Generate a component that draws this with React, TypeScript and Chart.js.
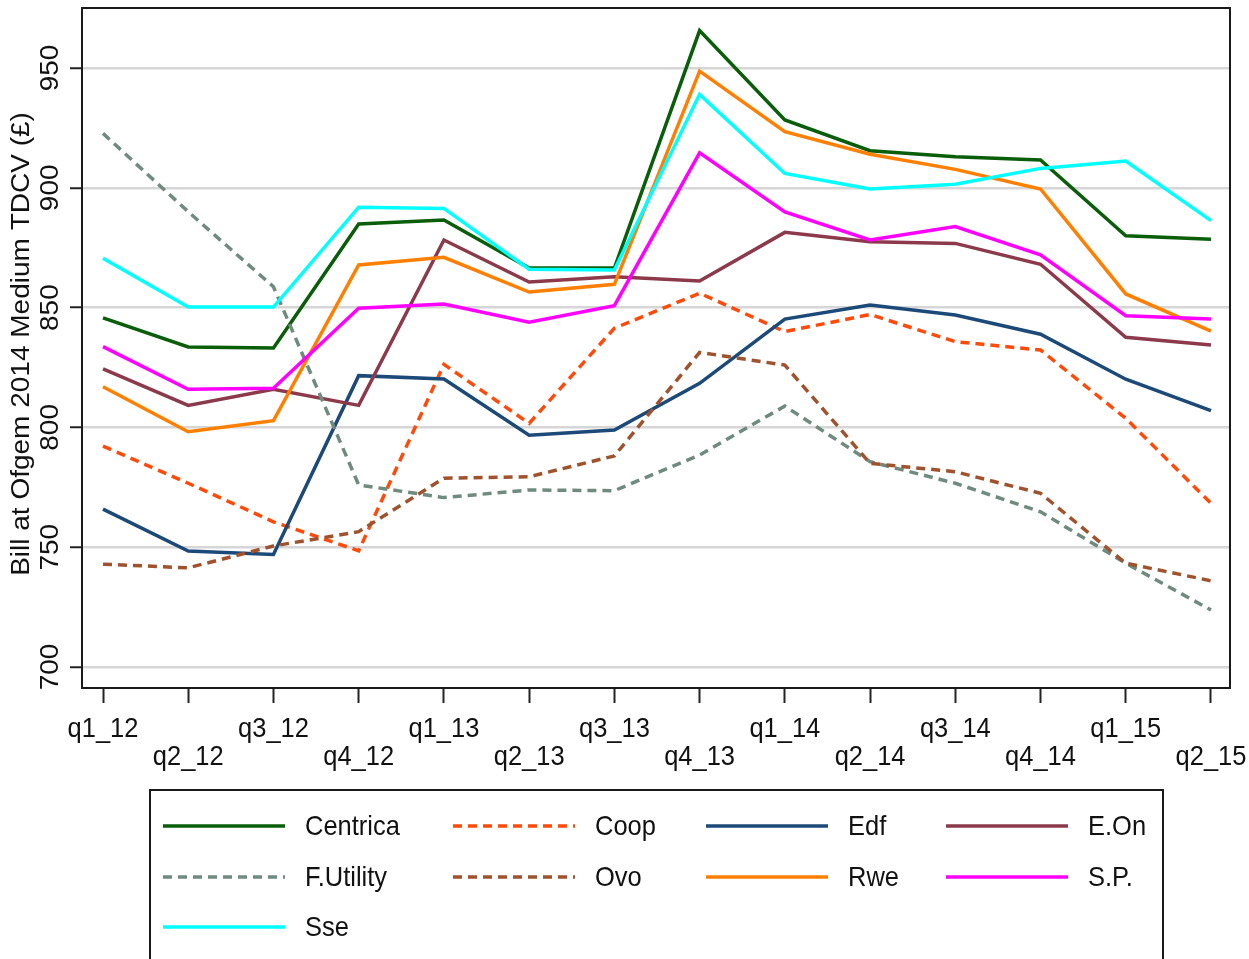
import React, { useEffect, useRef } from 'react';
import { Chart, registerables } from 'chart.js';

Chart.register(...registerables);

// ---------- data ----------
const quarters = ['q1_12', 'q2_12', 'q3_12', 'q4_12', 'q1_13', 'q2_13', 'q3_13', 'q4_13', 'q1_14', 'q2_14', 'q3_14', 'q4_14', 'q1_15', 'q2_15'];
const centrica = [845.7, 833.6, 833.1, 884.9, 886.6, 866.5, 866.5, 965.6, 928.3, 915.5, 913.0, 911.6, 880.0, 878.5];
const coop = [792.2, 776.7, 760.6, 748.5, 826.3, 801.7, 841.4, 856.0, 840.0, 847.1, 835.8, 832.3, 803.8, 768.3];
const edf = [765.9, 748.4, 747.0, 821.6, 820.2, 796.7, 798.9, 818.4, 845.2, 851.1, 846.9, 838.9, 820.1, 807.0];
const eon = [824.4, 809.2, 815.9, 809.2, 878.2, 860.7, 862.9, 861.1, 881.4, 877.5, 876.8, 868.1, 837.6, 834.4];
const fUtility = [922.7, 890.0, 858.7, 776.0, 770.7, 773.9, 773.6, 788.5, 808.9, 785.7, 776.7, 764.8, 743.3, 723.8];
const ovo = [742.9, 741.4, 750.5, 756.5, 778.8, 779.4, 788.1, 831.3, 826.0, 785.0, 781.5, 772.5, 743.3, 736.0];
const rwe = [817.0, 798.2, 802.8, 867.8, 871.0, 856.5, 859.7, 948.7, 923.4, 914.0, 907.7, 899.5, 855.7, 840.2];
const sp = [833.7, 815.9, 816.3, 849.7, 851.5, 843.9, 850.8, 914.6, 889.9, 878.2, 883.8, 872.0, 846.6, 845.2];
const sse = [870.6, 850.2, 850.2, 891.9, 891.4, 866.0, 865.7, 939.0, 906.0, 899.5, 901.5, 908.1, 911.2, 886.3];
const yTicks = [700, 750, 800, 850, 900, 950];
const yTitle = 'Bill at Ofgem 2014 Medium TDCV (£)';

const seriesNames = ['Centrica', 'Coop', 'Edf', 'E.On', 'F.Utility', 'Ovo', 'Rwe', 'S.P.', 'Sse'];
const seriesValues = [centrica, coop, edf, eon, fUtility, ovo, rwe, sp, sse];

// ---------- styles ----------
const seriesColors = ['#0a5e0a', '#ff4a0a', '#1c4a78', '#8c3a4b', '#6f8a7e', '#a0522d', '#ff7f00', '#ff00ff', '#00ffff'];
const seriesDashed = [false, true, false, false, true, true, false, false, false];
const FONT = '"Liberation Sans", Arial, Helvetica, sans-serif';
const SX = 0.91; // horizontal text condensing

const datasets = seriesNames.map((name, i) => ({
  label: name,
  data: seriesValues[i].map((v, k) => ({ x: k, y: v })),
  borderColor: seriesColors[i],
  backgroundColor: seriesColors[i],
  borderWidth: 3.5,
  borderDash: seriesDashed[i] ? [9, 6] : [],
  pointRadius: 0,
  tension: 0,
  fill: false,
  order: seriesNames.length - i,
}));

function drawText(ctx: CanvasRenderingContext2D, text: string, x: number, y: number, rotate = false) {
  ctx.save();
  ctx.translate(x, y);
  ctx.scale(SX, 1);
  if (rotate) ctx.rotate(-Math.PI / 2);
  ctx.fillText(text, 0, 0);
  ctx.restore();
}

const customDraw = {
  id: 'customDraw',
  afterDraw(chart: any) {
    const { ctx, chartArea, scales } = chart;
    const xs = scales.x;
    const ys = scales.y;
    ctx.save();

    // frame
    ctx.strokeStyle = '#1a1a1a';
    ctx.lineWidth = 2;
    ctx.setLineDash([]);
    ctx.strokeRect(chartArea.left, chartArea.top, chartArea.right - chartArea.left, chartArea.bottom - chartArea.top);

    // y tick labels (rotated)
    ctx.fillStyle = '#111';
    ctx.textAlign = 'center';
    ctx.textBaseline = 'alphabetic';
    ctx.font = `28px ${FONT}`;
    yTicks.forEach((v) => {
      drawText(ctx, String(v), chartArea.left - 24, ys.getPixelForValue(v), true);
    });

    // y title
    drawText(ctx, yTitle, chartArea.left - 53, (chartArea.top + chartArea.bottom) / 2 - 4, true);

    // x labels, staggered
    quarters.forEach((q, i) => {
      drawText(ctx, q, xs.getPixelForValue(i), chartArea.bottom + (i % 2 === 0 ? 49 : 77));
    });

    // legend
    const boxL = 150, boxT = 790, boxR = 1163, boxB = 975;
    ctx.strokeStyle = '#1a1a1a';
    ctx.lineWidth = 2;
    ctx.strokeRect(boxL, boxT, boxR - boxL, boxB - boxT);
    const colX = [163, 453, 706, 946];
    const rowY = [826, 877, 927];
    const sampleLen = 122;
    ctx.textAlign = 'left';
    ctx.textBaseline = 'middle';
    seriesNames.forEach((name, i) => {
      const cx = colX[i % 4];
      const cy = rowY[Math.floor(i / 4)];
      ctx.strokeStyle = seriesColors[i];
      ctx.lineWidth = 3.5;
      ctx.setLineDash(seriesDashed[i] ? [9, 6] : []);
      ctx.beginPath();
      ctx.moveTo(cx, cy);
      ctx.lineTo(cx + sampleLen, cy);
      ctx.stroke();
      ctx.setLineDash([]);
      ctx.fillStyle = '#111';
      drawText(ctx, name, cx + sampleLen + 20, cy + 1);
    });

    ctx.restore();
  },
};

export default function App() {
  const ref = useRef<HTMLCanvasElement>(null);
  useEffect(() => {
    if (!ref.current) return;
    const chart = new Chart(ref.current, {
      type: 'line',
      data: { datasets: datasets as any },
      options: {
        animation: false,
        responsive: false,
        layout: { padding: { left: 0, top: 8, right: 19, bottom: 0 } },
        plugins: { legend: { display: false }, tooltip: { enabled: false }, title: { display: false } },
        scales: {
          x: {
            type: 'linear',
            min: -0.2464,
            max: 13.223,
            afterBuildTicks: (scale: any) => {
              scale.ticks = quarters.map((_, i) => ({ value: i }));
            },
            afterFit: (scale: any) => {
              scale.height = 271;
            },
            ticks: { display: false },
            border: { display: false },
            grid: {
              display: true,
              drawOnChartArea: false,
              drawTicks: true,
              tickLength: 15,
              tickColor: '#222',
              tickWidth: 2,
            },
          },
          y: {
            type: 'linear',
            min: 691.24,
            max: 975.04,
            afterBuildTicks: (scale: any) => {
              scale.ticks = yTicks.map((v) => ({ value: v }));
            },
            afterFit: (scale: any) => {
              scale.width = 82;
            },
            ticks: { display: false },
            border: { display: false },
            grid: {
              display: true,
              drawOnChartArea: true,
              drawTicks: true,
              tickLength: 12,
              color: '#d6d6d6',
              lineWidth: 2.5,
              tickColor: '#222',
              tickWidth: 2,
            },
          },
        },
      },
      plugins: [customDraw],
    });
    return () => chart.destroy();
  }, []);
  return (
    <div style={{ position: 'fixed', left: 0, top: 0, width: 1249, height: 959, background: '#fff' }}>
      <canvas ref={ref} width={1249} height={959} />
    </div>
  );
}
